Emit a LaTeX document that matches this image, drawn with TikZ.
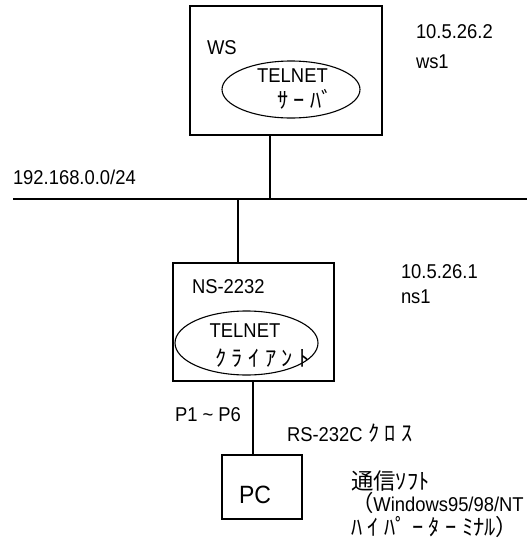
\documentclass[tikz,border=0pt]{standalone}
\usepackage{fontspec}
\setmainfont{Liberation Sans}[FakeStretch=0.92]
\newfontfamily\jp{Noto Sans CJK JP}[Scale=1.12]
\usetikzlibrary{shapes.geometric}
\newcommand\ksp{\hspace{5.5pt}}
\begin{document}
\begin{tikzpicture}[x=1pt,y=-1pt,
  every node/.style={font=\fontsize{20}{22}\selectfont, inner sep=0pt, outer sep=0pt},
  box/.style={draw, line width=1.1pt, minimum width=#1},
  ell/.style={draw, ellipse, line width=1.1pt},
  lbl/.style={anchor=west},
  wire/.style={line width=1.1pt},
  net/.style={line width=1.6pt}]
\useasboundingbox (0,0) rectangle (532,544);
% boxes
\node[box=192pt, minimum height=129pt] (ws) at (286,70.5) {};
\node[box=161pt, minimum height=118pt] (ns) at (253.5,322) {};
\node[box=80pt, minimum height=64pt] (pc) at (262,487) {};
% ellipses
\node[ell, minimum width=138pt, minimum height=57pt] (wsell) at (291,89.5) {};
\node[ell, minimum width=143pt, minimum height=64pt] (nsell) at (246.5,343) {};
% network
\coordinate (netL) at (13,199);
\coordinate (netR) at (527,199);
\coordinate (tapA) at (270,199);
\coordinate (tapB) at (238,199);
\coordinate (pcTop) at (253,455);
\draw[net] (netL) -- (netR);
\draw[wire] (ws.south -| tapA) -- (tapA);
\draw[wire] (tapB) -- (ns.north -| tapB);
\draw[wire] (ns.south -| pcTop) -- (pcTop);
% texts
\node[lbl] (wsl) at (207,48) {WS};
\node (wst1) at (292.5,76) {TELNET};
\node[lbl] (wst2) at (277,99) {\jp ｻ\ksp ｰ\ksp ﾊﾞ};
\node[lbl] (wsip) at (416,32) {10.5.26.2};
\node[lbl] (wsn) at (416,62) {ws1};
\node[lbl] (netl) at (13,177) {192.168.0.0/24};
\node[lbl] (nsl) at (192,287) {NS-2232};
\node (nst1) at (245,331) {TELNET};
\node[lbl] (nst2) at (215,358) {\jp ｸ\ksp ﾗ\ksp ｲ\ksp ｱ\ksp ﾝ\ksp ﾄ};
\node[lbl] (nsip) at (401,272) {10.5.26.1};
\node[lbl] (nsn) at (401,297) {ns1};
\node[lbl] (port) at (175,415) {P1 \textasciitilde{} P6};
\node[lbl] (cable) at (287,433) {RS-232C\ksp{\jp ｸ\ksp ﾛ\ksp ｽ}};
\node[font=\fontsize{25}{27}\selectfont] (pcl) at (255,495) {PC};
\node[lbl, text height=13pt, text depth=3pt] (sw1) at (351,484) {\jp 通信ｿﾌﾄ};
\node[lbl, text height=13pt, text depth=3pt] (sw2) at (351,506) {{\jp （}Windows95/98/NT};
\node[lbl, text height=13pt, text depth=3pt] (sw3) at (351,530) {\jp ﾊ\ksp ｲ\ksp ﾊﾟ\ksp ｰ\ksp ﾀ\ksp ｰ\ksp ﾐﾅﾙ）};
\end{tikzpicture}
\end{document}
